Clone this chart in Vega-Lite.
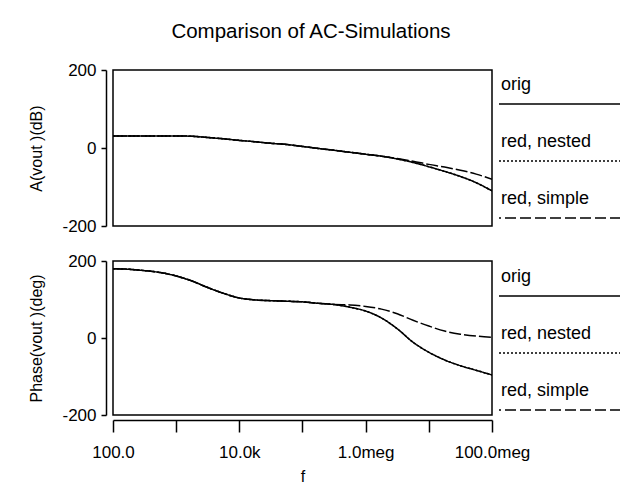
{
  "$schema": "https://vega.github.io/schema/vega-lite/v6.json",
  "padding": {"left": 28, "top": 21, "right": 0, "bottom": 0},
  "background": "white",
  "title": {"text": "Comparison of AC-Simulations", "fontSize": 20.5, "fontWeight": "normal", "color": "black", "anchor": "middle", "offset": 18, "dx": -14},
  "datasets": {
    "curves": [
      {"series": "orig", "f": 100, "mag": 31, "phase": 180},
      {"series": "orig", "f": 177.8, "mag": 31, "phase": 178.5},
      {"series": "orig", "f": 316.2, "mag": 31, "phase": 175},
      {"series": "orig", "f": 562.3, "mag": 31, "phase": 170},
      {"series": "orig", "f": 1000, "mag": 31, "phase": 161},
      {"series": "orig", "f": 1778, "mag": 30, "phase": 148},
      {"series": "orig", "f": 3162, "mag": 27, "phase": 131},
      {"series": "orig", "f": 5623, "mag": 23.5, "phase": 116},
      {"series": "orig", "f": 10000, "mag": 19.5, "phase": 104},
      {"series": "orig", "f": 17783, "mag": 16, "phase": 99},
      {"series": "orig", "f": 31623, "mag": 12, "phase": 97},
      {"series": "orig", "f": 56234, "mag": 9, "phase": 95.5},
      {"series": "orig", "f": 100000, "mag": 4, "phase": 94},
      {"series": "orig", "f": 177828, "mag": -1, "phase": 90},
      {"series": "orig", "f": 316228, "mag": -6, "phase": 87},
      {"series": "orig", "f": 562341, "mag": -11, "phase": 80},
      {"series": "orig", "f": 1000000, "mag": -16, "phase": 70},
      {"series": "orig", "f": 1778279, "mag": -21, "phase": 52},
      {"series": "orig", "f": 3162278, "mag": -28, "phase": 24},
      {"series": "orig", "f": 5623413, "mag": -37, "phase": -11},
      {"series": "orig", "f": 10000000, "mag": -48, "phase": -37},
      {"series": "orig", "f": 17782794, "mag": -60, "phase": -57},
      {"series": "orig", "f": 31622777, "mag": -73, "phase": -72},
      {"series": "orig", "f": 56234133, "mag": -89, "phase": -84},
      {"series": "orig", "f": 100000000, "mag": -110, "phase": -96},
      {"series": "red, nested", "f": 100, "mag": 31, "phase": 180},
      {"series": "red, nested", "f": 177.8, "mag": 31, "phase": 178.5},
      {"series": "red, nested", "f": 316.2, "mag": 31, "phase": 175},
      {"series": "red, nested", "f": 562.3, "mag": 31, "phase": 170},
      {"series": "red, nested", "f": 1000, "mag": 31, "phase": 161},
      {"series": "red, nested", "f": 1778, "mag": 30, "phase": 148},
      {"series": "red, nested", "f": 3162, "mag": 27, "phase": 131},
      {"series": "red, nested", "f": 5623, "mag": 23.5, "phase": 116},
      {"series": "red, nested", "f": 10000, "mag": 19.5, "phase": 104},
      {"series": "red, nested", "f": 17783, "mag": 16, "phase": 99},
      {"series": "red, nested", "f": 31623, "mag": 12, "phase": 97},
      {"series": "red, nested", "f": 56234, "mag": 9, "phase": 95.5},
      {"series": "red, nested", "f": 100000, "mag": 4, "phase": 94},
      {"series": "red, nested", "f": 177828, "mag": -1, "phase": 90},
      {"series": "red, nested", "f": 316228, "mag": -6, "phase": 87},
      {"series": "red, nested", "f": 562341, "mag": -11, "phase": 80},
      {"series": "red, nested", "f": 1000000, "mag": -16, "phase": 70},
      {"series": "red, nested", "f": 1778279, "mag": -21, "phase": 52},
      {"series": "red, nested", "f": 3162278, "mag": -28, "phase": 24},
      {"series": "red, nested", "f": 5623413, "mag": -37, "phase": -11},
      {"series": "red, nested", "f": 10000000, "mag": -48, "phase": -37},
      {"series": "red, nested", "f": 17782794, "mag": -60, "phase": -57},
      {"series": "red, nested", "f": 31622777, "mag": -73, "phase": -72},
      {"series": "red, nested", "f": 56234133, "mag": -89, "phase": -84},
      {"series": "red, nested", "f": 100000000, "mag": -110, "phase": -96},
      {"series": "red, simple", "f": 100, "mag": 31, "phase": 180},
      {"series": "red, simple", "f": 177.8, "mag": 31, "phase": 178.5},
      {"series": "red, simple", "f": 316.2, "mag": 31, "phase": 175},
      {"series": "red, simple", "f": 562.3, "mag": 31, "phase": 170},
      {"series": "red, simple", "f": 1000, "mag": 31, "phase": 161},
      {"series": "red, simple", "f": 1778, "mag": 30, "phase": 148},
      {"series": "red, simple", "f": 3162, "mag": 27, "phase": 131},
      {"series": "red, simple", "f": 5623, "mag": 23.5, "phase": 116},
      {"series": "red, simple", "f": 10000, "mag": 19.5, "phase": 104},
      {"series": "red, simple", "f": 17783, "mag": 16, "phase": 99},
      {"series": "red, simple", "f": 31623, "mag": 12, "phase": 97},
      {"series": "red, simple", "f": 56234, "mag": 9, "phase": 95.5},
      {"series": "red, simple", "f": 100000, "mag": 4, "phase": 94},
      {"series": "red, simple", "f": 177828, "mag": -1, "phase": 90},
      {"series": "red, simple", "f": 316228, "mag": -6, "phase": 87},
      {"series": "red, simple", "f": 562341, "mag": -11, "phase": 86},
      {"series": "red, simple", "f": 1000000, "mag": -16, "phase": 82},
      {"series": "red, simple", "f": 1778279, "mag": -21, "phase": 75},
      {"series": "red, simple", "f": 3162278, "mag": -27, "phase": 63},
      {"series": "red, simple", "f": 5623413, "mag": -34, "phase": 46},
      {"series": "red, simple", "f": 10000000, "mag": -42, "phase": 31},
      {"series": "red, simple", "f": 17782794, "mag": -49, "phase": 18},
      {"series": "red, simple", "f": 31622777, "mag": -57, "phase": 10},
      {"series": "red, simple", "f": 56234133, "mag": -67, "phase": 5},
      {"series": "red, simple", "f": 100000000, "mag": -80, "phase": 2}
    ],
    "legend": [
      {"series": "orig"},
      {"series": "red, nested"},
      {"series": "red, simple"}
    ]
  },
  "bounds": "flush",
  "columns": 2,
  "spacing": {"row": 35, "column": 7},
  "concat": [
    {
      "width": 379,
      "height": 156,
      "data": {"name": "curves"},
      "mark": {"type": "line", "color": "black", "strokeWidth": 1.5, "interpolate": "monotone", "clip": true},
      "encoding": {
        "x": {"field": "f", "type": "quantitative", "scale": {"type": "log", "domain": [100, 100000000], "nice": false}, "axis": null},
        "y": {"field": "mag", "type": "quantitative", "scale": {"domain": [-200, 200], "nice": false},
          "axis": {"title": "A(vout )(dB)", "values": [-200, 0, 200], "offset": 7, "tickSize": 5, "labelPadding": 5, "titlePadding": 17,
            "labelExpr": "datum.value < 0 ? '-' + format(-datum.value, 'd') : format(datum.value, 'd')"}},
        "strokeDash": {"field": "series", "type": "nominal", "scale": {"domain": ["orig", "red, nested", "red, simple"], "range": [[1, 0], [2, 2], [12, 3]]}, "legend": null}
      }
    },
    {
      "width": 122,
      "height": 156,
      "view": {"stroke": null},
      "data": {"name": "legend"},
      "layer": [
        {
          "mark": {"type": "rule", "color": "black", "strokeWidth": 1.5},
          "encoding": {
            "y": {"field": "series", "type": "nominal", "scale": {"type": "point", "padding": 0, "range": [34, 148]}, "axis": null},
            "strokeDash": {"field": "series", "type": "nominal", "scale": {"domain": ["orig", "red, nested", "red, simple"], "range": [[1, 0], [2, 2], [11, 4]]}, "legend": null}
          }
        },
        {
          "mark": {"type": "text", "align": "left", "baseline": "middle", "dx": 2, "dy": -19, "fontSize": 18, "color": "black"},
          "encoding": {
            "x": {"datum": 0, "type": "quantitative", "scale": {"domain": [0, 1]}, "axis": null},
            "y": {"field": "series", "type": "nominal", "scale": {"type": "point", "padding": 0, "range": [34, 148]}, "axis": null},
            "text": {"field": "series"}
          }
        }
      ]
    },
    {
      "width": 379,
      "height": 154,
      "data": {"name": "curves"},
      "mark": {"type": "line", "color": "black", "strokeWidth": 1.5, "interpolate": "monotone", "clip": true},
      "encoding": {
        "x": {"field": "f", "type": "quantitative", "scale": {"type": "log", "domain": [100, 100000000], "nice": false},
          "axis": {"title": "f", "values": [100, 1000, 10000, 100000, 1000000, 10000000, 100000000], "offset": 5, "tickSize": 12, "labelPadding": 12, "titlePadding": 8, "labelFlush": false,
            "labelExpr": "datum.value == 100 ? '100.0' : datum.value == 10000 ? '10.0k' : datum.value == 1000000 ? '1.0meg' : datum.value == 100000000 ? '100.0meg' : ''"}},
        "y": {"field": "phase", "type": "quantitative", "scale": {"domain": [-200, 200], "nice": false},
          "axis": {"title": "Phase(vout )(deg)", "values": [-200, 0, 200], "offset": 7, "tickSize": 5, "labelPadding": 5, "titlePadding": 17,
            "labelExpr": "datum.value < 0 ? '-' + format(-datum.value, 'd') : format(datum.value, 'd')"}},
        "strokeDash": {"field": "series", "type": "nominal", "scale": {"domain": ["orig", "red, nested", "red, simple"], "range": [[1, 0], [2, 2], [12, 3]]}, "legend": null}
      }
    },
    {
      "width": 122,
      "height": 154,
      "view": {"stroke": null},
      "data": {"name": "legend"},
      "layer": [
        {
          "mark": {"type": "rule", "color": "black", "strokeWidth": 1.5},
          "encoding": {
            "y": {"field": "series", "type": "nominal", "scale": {"type": "point", "padding": 0, "range": [35, 149]}, "axis": null},
            "strokeDash": {"field": "series", "type": "nominal", "scale": {"domain": ["orig", "red, nested", "red, simple"], "range": [[1, 0], [2, 2], [11, 4]]}, "legend": null}
          }
        },
        {
          "mark": {"type": "text", "align": "left", "baseline": "middle", "dx": 2, "dy": -19, "fontSize": 18, "color": "black"},
          "encoding": {
            "x": {"datum": 0, "type": "quantitative", "scale": {"domain": [0, 1]}, "axis": null},
            "y": {"field": "series", "type": "nominal", "scale": {"type": "point", "padding": 0, "range": [35, 149]}, "axis": null},
            "text": {"field": "series"}
          }
        }
      ]
    }
  ],
  "resolve": {"scale": {"x": "independent", "y": "independent", "strokeDash": "independent"}},
  "config": {
    "font": "Liberation Sans",
    "view": {"stroke": "black", "strokeWidth": 1.5},
    "axis": {
      "grid": false,
      "domainColor": "black",
      "domainWidth": 1.5,
      "tickColor": "black",
      "tickWidth": 1.5,
      "labelColor": "black",
      "labelFontSize": 17,
      "titleColor": "black",
      "titleFontSize": 16,
      "titleFontWeight": "normal"
    }
  }
}
